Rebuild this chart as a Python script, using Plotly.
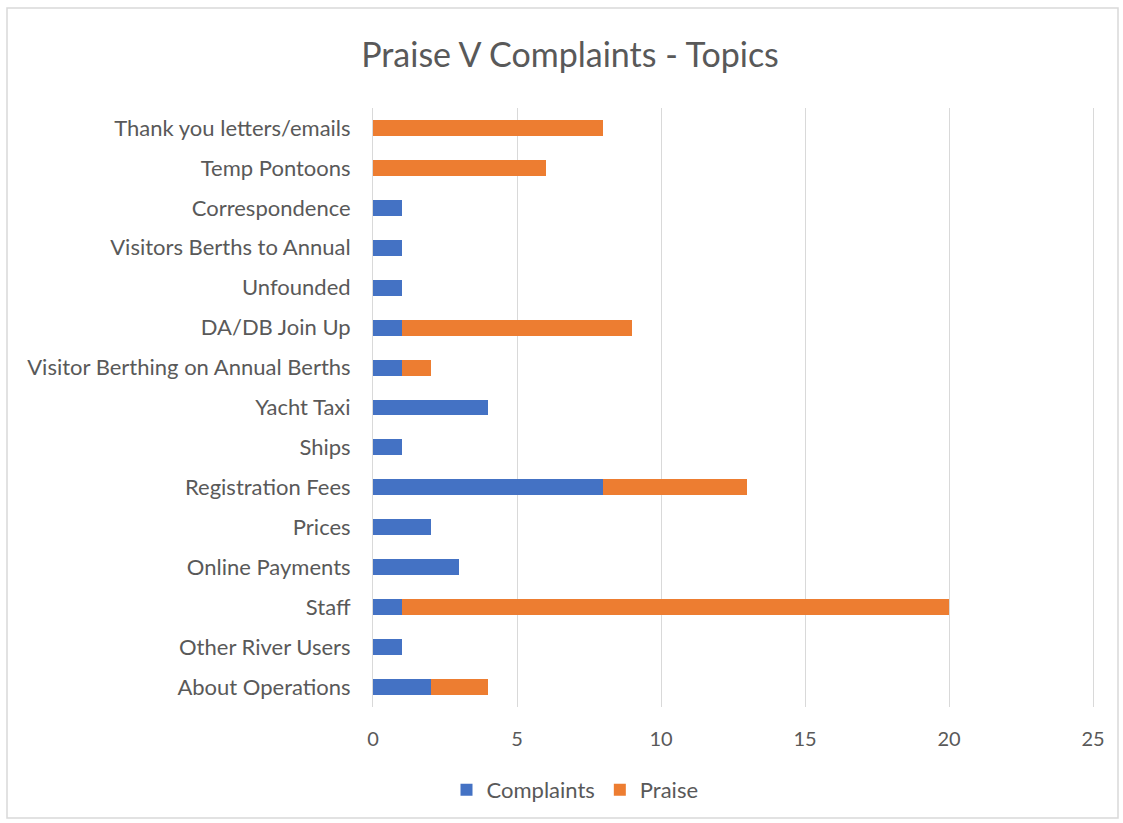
import plotly.graph_objects as go

# Topics listed bottom-to-top (as drawn on the category axis)
topics = [
    "About Operations", "Other River Users", "Staff", "Online Payments", "Prices",
    "Registration Fees", "Ships", "Yacht Taxi", "Visitor Berthing on Annual Berths",
    "DA/DB Join Up", "Unfounded", "Visitors Berths to Annual", "Correspondence",
    "Temp Pontoons", "Thank you letters/emails",
]
complaints = [2, 1, 1, 3, 2, 8, 1, 4, 1, 1, 1, 1, 1, 0, 0]
praise = [2, 0, 19, 0, 0, 5, 0, 0, 1, 8, 0, 0, 0, 6, 8]

FONT = "Lato"
GREY = "#595959"

fig = go.Figure()
fig.add_trace(go.Bar(y=topics, x=complaints, orientation="h", name="Complaints",
                     marker=dict(color="#4472C4", line=dict(width=0))))
fig.add_trace(go.Bar(y=topics, x=praise, orientation="h", name="Praise",
                     marker=dict(color="#ED7D31", line=dict(width=0))))

# plot area spans x 373..1093 px, y 108..707 px
L, R, T, B = 373, 30, 108, 116
W, H = 1123, 823
pw, ph = W - L - R, H - T - B

def px(x):
    return (x - L) / pw

def py(y):
    return (H - B - y) / ph

fig.update_layout(
    width=W, height=H,
    margin=dict(l=L, r=R, t=T, b=B),
    barmode="stack", bargap=0.6,
    plot_bgcolor="white", paper_bgcolor="white",
    font=dict(family=FONT, color=GREY, size=22),
    title=dict(text="Praise V Complaints - Topics", xref="paper", x=px(570), xanchor="center",
               yref="container", y=1 - 55 / H, yanchor="middle",
               font=dict(size=34, color=GREY, family=FONT)),
    xaxis=dict(range=[0, 25], tickvals=[0, 5, 10, 15, 20, 25], showgrid=True,
               gridcolor="#D9D9D9", gridwidth=1, zeroline=False, showline=False,
               ticks="", tickfont=dict(size=20, color=GREY), ticklabelstandoff=18),
    yaxis=dict(showgrid=False, zeroline=False, showline=True, linecolor="#D9D9D9",
               linewidth=1, mirror=True, ticks="",
               ticklabelstandoff=17, tickfont=dict(size=22, color=GREY)),
    legend=dict(orientation="h", x=px(575), xanchor="center", y=py(790), yanchor="middle",
                font=dict(size=22, color=GREY), itemwidth=30, traceorder="normal"),
    shapes=[dict(type="rect", xref="paper", yref="paper",
                 x0=px(7), x1=px(1118), y0=py(818), y1=py(8),
                 line=dict(color="#D9D9D9", width=1.5), layer="below")],
)

fig.write_html("out.html")
